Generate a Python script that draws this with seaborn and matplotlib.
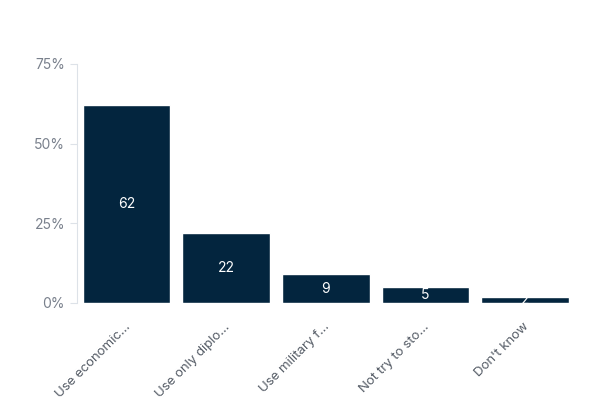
import matplotlib
matplotlib.use("Agg")
import matplotlib.pyplot as plt
import matplotlib.transforms as mtransforms
import seaborn as sns
import pandas as pd

categories = ["Use economic…", "Use only diplo…", "Use military f…", "Not try to sto…", "Don't know"]
values = [62, 22, 9, 5, 2]
yticks = [0, 25, 50, 75]
ytick_labels = ["0%", "25%", "50%", "75%"]

df = pd.DataFrame({"answer": categories, "pct": values})

sns.set_theme(style="white")
plt.rcParams["font.family"] = ["Inter", "DejaVu Sans"]

fig = plt.figure(figsize=(6, 4), dpi=100)
ax = fig.add_axes([0.128, 0.2425, 0.83, 0.5975])

sns.barplot(data=df, x="answer", y="pct", color="#03253e", width=0.88,
            saturation=1, ax=ax)

for c in ax.containers:
    ax.bar_label(c, labels=[str(v) for v in values], label_type="center",
                 color="white", fontsize=10)

ax.set_xlim(-0.5, 4.5)
ax.set_ylim(0, 75)
ax.set_yticks(yticks)
ax.set_yticklabels(ytick_labels)
ax.set_xlabel("")
ax.set_ylabel("")

for s in ["top", "right", "bottom"]:
    ax.spines[s].set_visible(False)
ax.spines["left"].set_color("#dde2e8")
ax.spines["left"].set_linewidth(0.8)

ax.tick_params(axis="y", colors="#dde2e8", labelcolor="#79808c", labelsize=10,
               length=5, width=0.8, left=True)
ax.tick_params(axis="x", labelcolor="#555c66", labelsize=9.5, length=0)

# push the rotated labels a bit further down, like the reference
shift = mtransforms.ScaledTranslation(-0.02, -0.13, fig.dpi_scale_trans)
for lab in ax.get_xticklabels():
    lab.set_rotation(45)
    lab.set_ha("right")
    lab.set_rotation_mode("anchor")
    lab.set_transform(lab.get_transform() + shift)

fig.savefig("out.png", dpi=100)
